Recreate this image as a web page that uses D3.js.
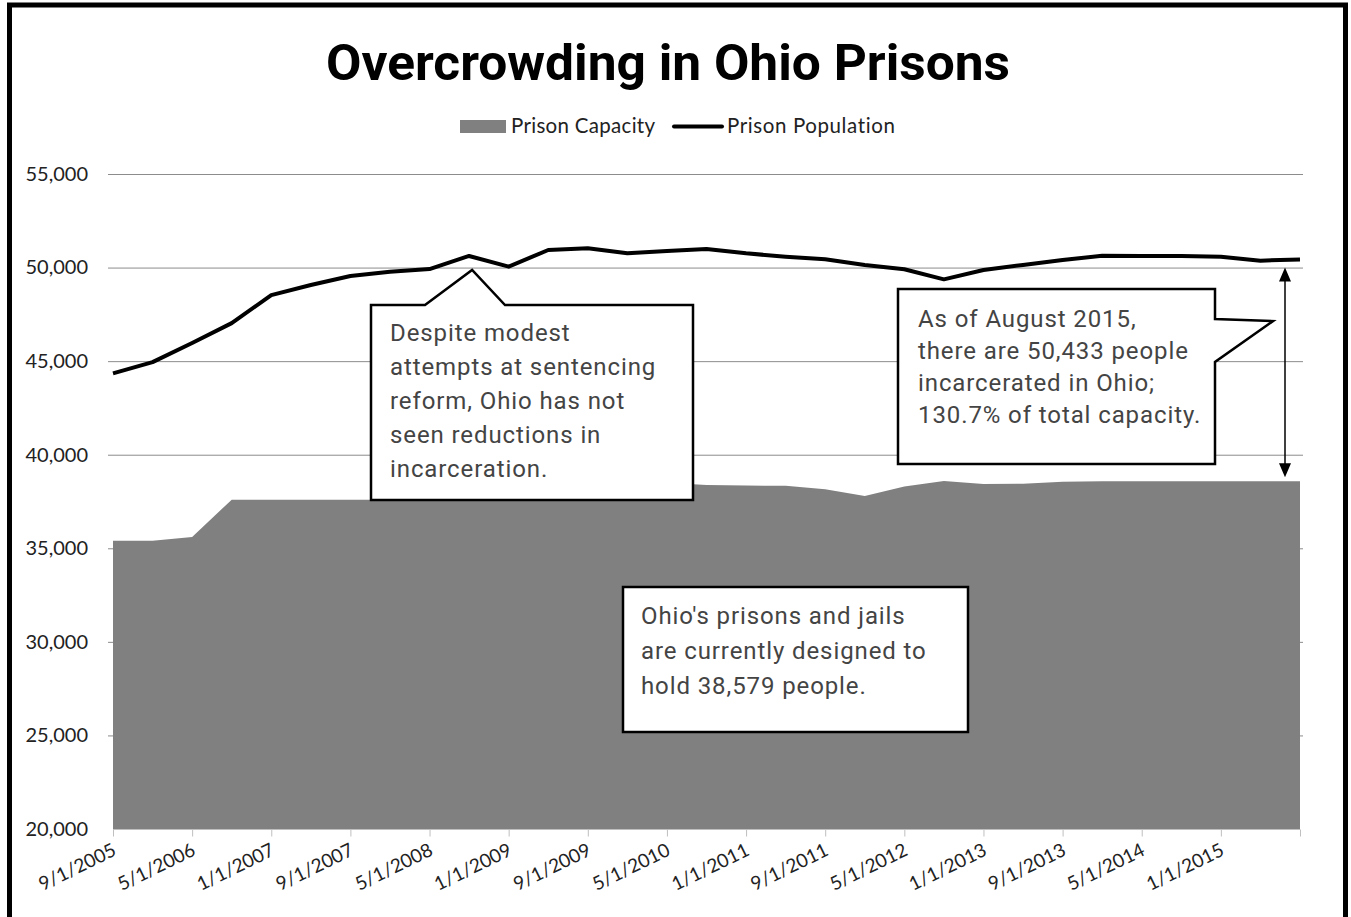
<!DOCTYPE html>
<html>
<head>
<meta charset="utf-8">
<script src="https://cdn.jsdelivr.net/npm/d3@7"></script>
<style>
  body { margin: 0; background: #fff; }
  svg text { font-family: Lato, "Open Sans", sans-serif; }
</style>
</head>
<body>
<div id="chart"></div>
<script>
// one point every 4 months, Sep 2005 to Sep 2015
const dates = [
  '9/1/2005', '1/1/2006', '5/1/2006', '9/1/2006', '1/1/2007', '5/1/2007', '9/1/2007', '1/1/2008',
  '5/1/2008', '9/1/2008', '1/1/2009', '5/1/2009', '9/1/2009', '1/1/2010', '5/1/2010', '9/1/2010',
  '1/1/2011', '5/1/2011', '9/1/2011', '1/1/2012', '5/1/2012', '9/1/2012', '1/1/2013', '5/1/2013',
  '9/1/2013', '1/1/2014', '5/1/2014', '9/1/2014', '1/1/2015', '5/1/2015', '9/1/2015'
];
const capacity = [
  35400, 35400, 35600, 37600, 37600, 37600, 37600, 37600,
  37600, 37700, 37800, 38000, 38200, 38400, 38500, 38380,
  38350, 38340, 38150, 37800, 38300, 38600, 38430, 38450,
  38550, 38579, 38579, 38579, 38579, 38579, 38579
];
const population = [
  44350, 44950, 45970, 47030, 48530, 49070, 49550, 49780,
  49920, 50620, 50050, 50940, 51030, 50760, 50880, 50990,
  50760, 50580, 50440, 50140, 49910, 49370, 49870, 50140,
  50400, 50630, 50620, 50620, 50580, 50370, 50433
];
const yTicks = [20000, 25000, 30000, 35000, 40000, 45000, 50000, 55000];
const seriesNames = ['Prison Capacity', 'Prison Population'];
const title = 'Overcrowding in Ohio Prisons';

const width = 1351;
const height = 917;
const margin = {top: 174, right: 51, bottom: 88, left: 113};

let svg = d3.select('#chart').append('svg')
  .attr('width', width)
  .attr('height', height);

// frame round the picture
svg.append('rect')
  .attr('x', 9.5).attr('y', 5).attr('width', 1336).attr('height', 930)
  .attr('fill', 'none').attr('stroke', '#000').attr('stroke-width', 5);

let x = d3.scaleLinear()
  .domain([0, dates.length - 1])
  .range([margin.left, width - margin.right]);

let y = d3.scaleLinear()
  .domain([20000, 55000])
  .range([height - margin.bottom, margin.top]);

// gridlines
svg.append('g')
  .selectAll('line').data(yTicks.slice(1))
  .enter().append('line')
    .attr('x1', 108).attr('x2', 1303)
    .attr('y1', d => y(d) + 0.5).attr('y2', d => y(d) + 0.5)
    .attr('stroke', '#8c8c8c').attr('stroke-width', 1);

// y axis labels
let yAxis = d3.axisLeft(y).tickValues(yTicks).tickSize(0).tickPadding(20)
  .tickFormat(d3.format(','));
svg.append('g')
  .attr('transform', `translate(${margin.left - 5},0)`)
  .call(yAxis)
  .call(g => g.select('.domain').remove())
  .selectAll('text')
    .attr('font-size', 20).attr('fill', '#222')
    .style('font-family', 'Lato, sans-serif');

// capacity area
let area = d3.area()
  .x((d, i) => x(i))
  .y0(y(20000))
  .y1(d => y(d));
svg.append('path')
  .datum(capacity)
  .attr('d', area)
  .attr('fill', '#808080');

// population line
let line = d3.line()
  .x((d, i) => x(i))
  .y(d => y(d));
svg.append('path')
  .datum(population)
  .attr('d', line)
  .attr('fill', 'none')
  .attr('stroke', '#000')
  .attr('stroke-width', 4)
  .attr('stroke-linejoin', 'round');

// x axis
let tickIdx = d3.range(0, dates.length, 2);
let xAxis = d3.axisBottom(x).tickValues(tickIdx).tickSize(7).tickFormat(i => i < dates.length - 1 ? dates[i] : '');
let gx = svg.append('g')
  .attr('transform', `translate(0,${y(20000) + 0.5})`)
  .call(xAxis);
gx.select('.domain').attr('stroke', '#bfbfbf').attr('d', `M${x(0)},0H${x(dates.length - 1)}`);
gx.selectAll('.tick line').attr('stroke', '#bfbfbf');
gx.selectAll('.tick text')
  .attr('font-size', 19).attr('fill', '#222')
  .style('font-family', 'Lato, sans-serif')
  .attr('text-anchor', 'end')
  .attr('dy', 0)
  .attr('y', 0)
  .attr('transform', 'translate(4,25) rotate(-26)');

// title
svg.append('text')
  .attr('x', 668).attr('y', 80)
  .attr('text-anchor', 'middle')
  .attr('textLength', 684).attr('lengthAdjust', 'spacingAndGlyphs')
  .attr('font-size', 50).attr('font-weight', 700)
  .style('font-family', 'Roboto, sans-serif')
  .attr('fill', '#000')
  .text(title);

// legend
let legend = svg.append('g');
legend.append('rect')
  .attr('x', 460).attr('y', 120).attr('width', 46).attr('height', 13)
  .attr('fill', '#808080');
legend.append('text')
  .attr('x', 511).attr('y', 133)
  .attr('font-size', 20.5).attr('fill', '#222')
  .attr('letter-spacing', 0.3)
  .text(seriesNames[0]);
legend.append('line')
  .attr('x1', 674).attr('x2', 722).attr('y1', 126.5).attr('y2', 126.5)
  .attr('stroke', '#000').attr('stroke-width', 4).attr('stroke-linecap', 'round');
legend.append('text')
  .attr('x', 727).attr('y', 133)
  .attr('font-size', 20.5).attr('fill', '#222')
  .attr('letter-spacing', 0.6)
  .text(seriesNames[1]);

// callouts
let calloutText = (x0, y0, gap, lines) => {
  let t = svg.append('text')
    .attr('font-size', 24).attr('fill', '#444')
    .style('font-family', 'Roboto, sans-serif')
    .attr('letter-spacing', 0.9);
  lines.forEach((s, i) => {
    t.append('tspan').attr('x', x0).attr('y', y0 + i * gap).text(s);
  });
};

let callout = pts => svg.append('path')
  .attr('d', d3.line()(pts) + 'Z')
  .attr('fill', '#fff').attr('stroke', '#000').attr('stroke-width', 2.5)
  .attr('stroke-linejoin', 'miter');

// population peak note, pointing at 9/1/2008
let tip1 = [x(9) + 3, y(population[9]) + 14];
callout([[371, 305], [425, 305], tip1, [505, 305], [693, 305], [693, 500], [371, 500]]);
calloutText(390, 341, 34, ['Despite modest', 'attempts at sentencing', 'reform, Ohio has not', 'seen reductions in', 'incarceration.']);

// August 2015 note
callout([[898, 289], [1215, 289], [1215, 319], [1273, 321], [1215, 362], [1215, 464], [898, 464]]);
calloutText(918, 327, 32, ['As of August 2015,', 'there are 50,433 people', 'incarcerated in Ohio;', '130.7% of total capacity.']);

// capacity note
callout([[623, 587], [968, 587], [968, 732], [623, 732]]);
calloutText(641, 624, 35, ["Ohio's prisons and jails", 'are currently designed to', 'hold 38,579 people.']);

// double arrow between population and capacity
let ax = 1285;
let aTop = y(population[population.length - 1]) + 8;
let aBot = y(capacity[capacity.length - 1]) - 4;
svg.append('line')
  .attr('x1', ax).attr('x2', ax).attr('y1', aTop + 10).attr('y2', aBot - 10)
  .attr('stroke', '#000').attr('stroke-width', 1.5);
svg.append('path')
  .attr('d', `M${ax},${aTop}L${ax - 6},${aTop + 14}L${ax + 6},${aTop + 14}Z M${ax},${aBot}L${ax - 6},${aBot - 14}L${ax + 6},${aBot - 14}Z`)
  .attr('fill', '#000');
</script>
</body>
</html>
